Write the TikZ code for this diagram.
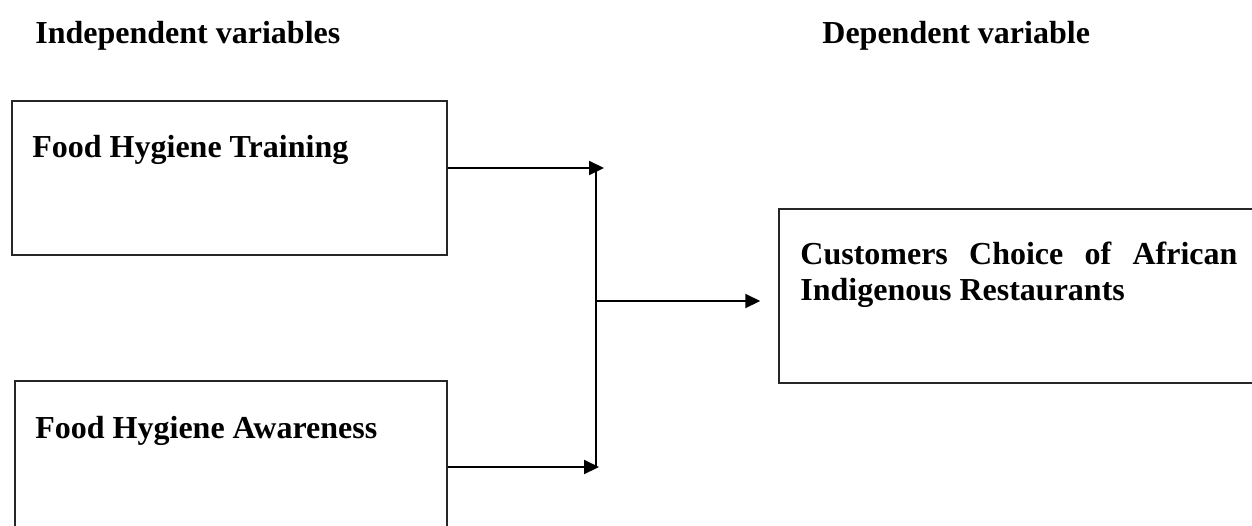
\documentclass[tikz,border=0pt]{standalone}
\usepackage{fontspec}
\setmainfont{Liberation Serif}
\usetikzlibrary{arrows.meta,positioning,calc}
\hyphenpenalty=10000
\tolerance=9999
\tikzset{
  varbox/.style={draw=black!85,line width=0.75pt,inner sep=0pt},
  varlbl/.style={font=\bfseries\fontsize{16}{18}\selectfont,inner sep=0pt,anchor=base west},
  flowarrow/.style={-{Triangle[length=7.5pt,width=7pt]},line width=1pt,black},
  joinline/.style={line width=0.6pt,black},
}

\begin{document}
\begin{tikzpicture}[x=0.5pt,y=-0.5pt]
  \useasboundingbox (0,0) rectangle (1252,525);
  \clip (0,0) rectangle (1252,525);
  % headings
  \node[varlbl] (indhead) at (35,43) {Independent variables};
  \node[varlbl] (dephead) at (822,43) {Dependent variable};
  % variable boxes
  \node[varbox,minimum width=217.5pt,minimum height=77pt] (train) at (229.5,178) {};
  \node[varbox,minimum width=216pt,minimum height=80pt] (aware) at (231,461) {};
  \node[varbox,minimum width=241.5pt,minimum height=87pt] (choice) at (1020.5,296) {};
  \node[varlbl] (trainlbl) at (32,157) {Food Hygiene Training};
  \node[varlbl] (awarelbl) at (35,438) {Food Hygiene Awareness};
  \node[varlbl,text width=218.5pt,align=justify] (choicelbl) at (800,264)
    {Customers Choice of African Indigenous Restaurants};
  % junction
  \coordinate (jtop) at (596,168);
  \coordinate (jmid) at (596,301);
  \coordinate (jbot) at (596,467);
  \draw[joinline] (jtop) -- (jbot);
  \draw[flowarrow] (train.east |- jtop) -- ([xshift=4pt]jtop);
  \draw[flowarrow] (aware.east |- jbot) -- ([xshift=1.5pt]jbot);
  \draw[flowarrow] (jmid) -- ([xshift=-9pt]choice.west |- jmid);
\end{tikzpicture}
\end{document}
